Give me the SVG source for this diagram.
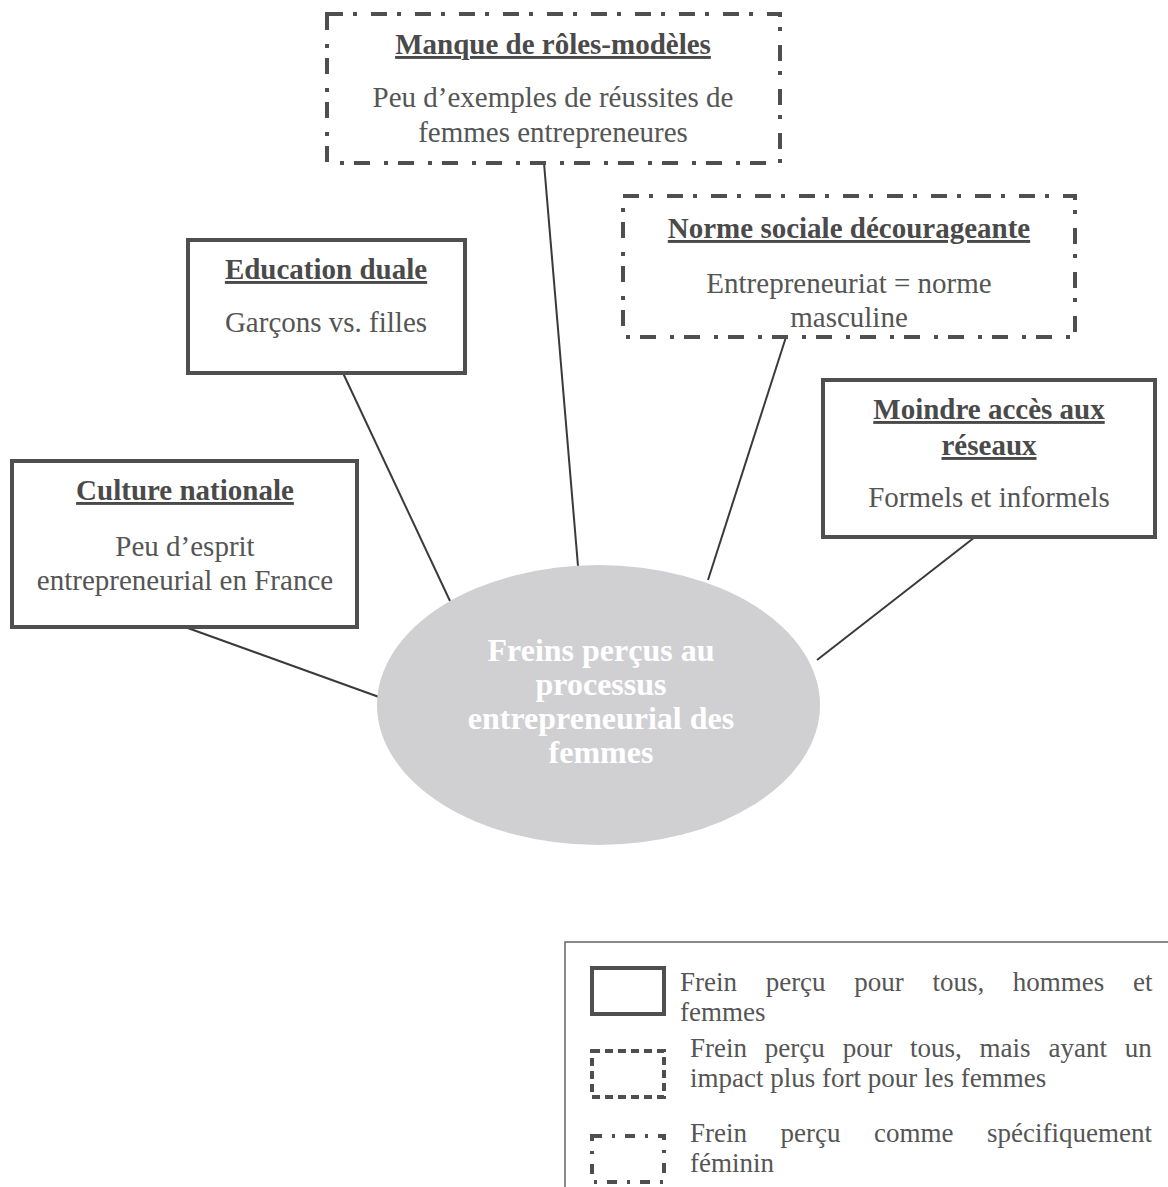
<svg xmlns="http://www.w3.org/2000/svg" width="1168" height="1187" viewBox="0 0 1168 1187">
  <style>
    .box { fill: #ffffff; stroke: #4f4f4f; stroke-width: 4; }
    .dashdot { stroke-dasharray: 16 10 4 14; }
    .dashed { stroke-dasharray: 8 5; }
    .title { font-family: "Liberation Serif", "Times New Roman", serif; font-size: 29px; font-weight: bold; fill: #4a4a4a; text-anchor: middle; text-decoration: underline; }
    .body { font-family: "Liberation Serif", "Times New Roman", serif; font-size: 29px; fill: #555555; text-anchor: middle; }
    .center { font-family: "Liberation Serif", "Times New Roman", serif; font-size: 32px; font-weight: bold; fill: #ffffff; text-anchor: middle; }
    .legend { font-family: "Liberation Serif", "Times New Roman", serif; font-size: 27px; fill: #555555; }
    .conn { stroke: #3a3a3a; stroke-width: 2; fill: none; }
  </style>

  <g id="connectors">
    <line class="conn" x1="544" y1="163" x2="578" y2="566"/>
    <line class="conn" x1="786" y1="337" x2="708" y2="580"/>
    <line class="conn" x1="343" y1="373" x2="450" y2="601"/>
    <line class="conn" x1="185" y1="627" x2="379" y2="697"/>
    <line class="conn" x1="975" y1="537" x2="817" y2="660"/>
  </g>

  <g id="center">
    <ellipse cx="598.5" cy="705" rx="221.5" ry="140" fill="#d0d0d2"/>
    <text class="center" x="601" y="661">Freins perçus au</text>
    <text class="center" x="601" y="695">processus</text>
    <text class="center" x="601" y="729">entrepreneurial des</text>
    <text class="center" x="601" y="763">femmes</text>
  </g>

  <g id="node-manque">
    <rect class="box dashdot" x="327" y="14" width="453" height="149"/>
    <text class="title" x="553" y="54">Manque de rôles-modèles</text>
    <text class="body" x="553" y="107">Peu d’exemples de réussites de</text>
    <text class="body" x="553" y="142">femmes entrepreneures</text>
  </g>

  <g id="node-norme">
    <rect class="box dashdot" x="623" y="196" width="452" height="141"/>
    <text class="title" x="849" y="238">Norme sociale décourageante</text>
    <text class="body" x="849" y="293">Entrepreneuriat = norme</text>
    <text class="body" x="849" y="327">masculine</text>
  </g>

  <g id="node-education">
    <rect class="box" x="188" y="240" width="277" height="133"/>
    <text class="title" x="326" y="279">Education duale</text>
    <text class="body" x="326" y="332">Garçons vs. filles</text>
  </g>

  <g id="node-culture">
    <rect class="box" x="12" y="461" width="345" height="166"/>
    <text class="title" x="185" y="500">Culture nationale</text>
    <text class="body" x="185" y="556">Peu d’esprit</text>
    <text class="body" x="185" y="590">entrepreneurial en France</text>
  </g>

  <g id="node-moindre">
    <rect class="box" x="823" y="380" width="332" height="157"/>
    <text class="title" x="989" y="419">Moindre accès aux</text>
    <text class="title" x="989" y="455">réseaux</text>
    <text class="body" x="989" y="507">Formels et informels</text>
  </g>

  <g id="legend">
    <rect x="565" y="942" width="700" height="300" fill="#ffffff" stroke="#666666" stroke-width="1.5"/>
    <rect class="box" x="592" y="968" width="72" height="46" stroke-width="3.5"/>
    <text class="legend" x="680" y="991" word-spacing="21.9">Frein perçu pour tous, hommes et</text>
    <text class="legend" x="680" y="1021">femmes</text>
    <rect class="box dashed" x="592" y="1051" width="72" height="46" stroke-width="3.5"/>
    <text class="legend" x="690" y="1057" word-spacing="11.1">Frein perçu pour tous, mais ayant un</text>
    <text class="legend" x="690" y="1087">impact plus fort pour les femmes</text>
    <rect class="box" x="592" y="1136" width="72" height="46" stroke-width="3.5" style="stroke-dasharray: 10 10 3 10"/>
    <text class="legend" x="690" y="1142" word-spacing="26.8">Frein perçu comme spécifiquement</text>
    <text class="legend" x="690" y="1172">féminin</text>
  </g>
</svg>
